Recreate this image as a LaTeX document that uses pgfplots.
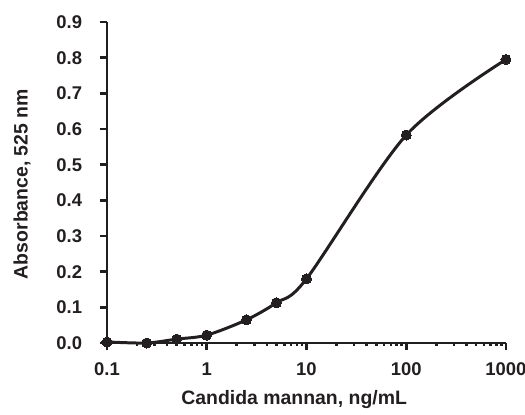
\documentclass[border=0pt]{standalone}
\usepackage{pgfplots}
\pgfplotsset{compat=1.18}
\usepackage{fontspec}
\setmainfont{Liberation Sans}
\definecolor{chartink}{RGB}{35,31,32}
\begin{document}
\begin{tikzpicture}
\begin{axis}[
  at={(0,0)}, anchor=south west,
  scale only axis,
  width=399bp, height=321bp,
  xmode=log,
  xmin=0.1, xmax=1000,
  ymin=0, ymax=0.9,
  axis lines=left,
  axis line style={-, black!88, line width=2.6pt},
  tick style={black!88, line width=2.6pt},
  major tick length=7.5pt,
  tick align=outside,
  xtick={0.1,1,10,100,1000},
  xticklabels={0.1,1,10,100,1000},
  minor xtick={},
  ytick={0,0.1,...,0.9},
  yticklabel style={xshift=-14pt, /pgf/number format/fixed,/pgf/number format/fixed zerofill,/pgf/number format/precision=1},
  xticklabel style={yshift=-9pt},
  /pgf/number format/assume math mode=true,
  tick label style={font=\fontsize{18.5}{20}\selectfont\bfseries, text=chartink},
  xlabel={Candida mannan, ng/mL},
  ylabel={Absorbance, 525 nm},
  every axis x label/.style={at={(axis description cs:0.469,-0.176)}, anchor=center, font=\fontsize{19.5}{21}\selectfont\bfseries, text=chartink},
  every axis y label/.style={at={(axis description cs:-0.213,0.495)}, anchor=center, rotate=90, font=\fontsize{19.5}{21}\selectfont\bfseries, text=chartink},
  clip=false,
]
\addplot[chartink, line width=3pt, smooth, tension=0.5, mark=*, mark size=5bp, mark options={fill=chartink, draw=chartink, line width=0pt}]
coordinates {
  (0.1,0.003)(0.25,0.0)(0.5,0.011)(1,0.022)(2.5,0.065)(5,0.113)(10,0.180)(100,0.583)(1000,0.795)
};
\end{axis}
\pgfresetboundingbox
\path[use as bounding box] (-107bp,-72bp) rectangle (418bp,343bp);
\end{tikzpicture}
\end{document}
